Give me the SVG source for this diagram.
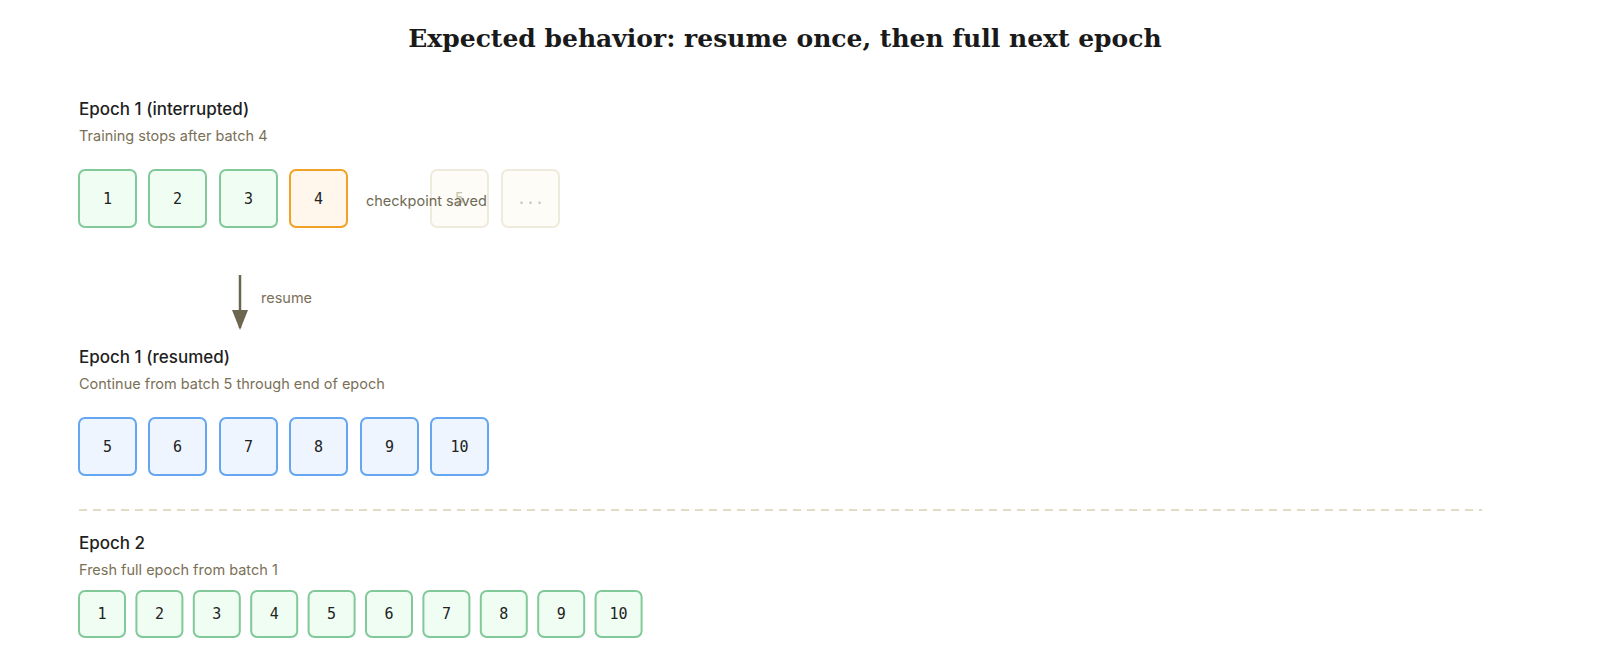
<svg xmlns="http://www.w3.org/2000/svg" width="1600" height="667" viewBox="0 0 1600 667">
<style>
.title{font-family:"DejaVu Serif","Liberation Serif",serif;font-weight:bold;font-size:25px;fill:#1a1a1a}
.h{font-family:Inter,"Liberation Sans",sans-serif;font-weight:500;font-size:17px;fill:#1f1f1f}
.sub{font-family:Inter,"Liberation Sans",sans-serif;font-size:14.5px;fill:#7a7058}
.num{font-family:"DejaVu Sans Mono",monospace;font-size:15px;fill:#222;text-anchor:middle}
.g{fill:#effdf2;stroke:#82c99a;stroke-width:2}
.b{fill:#eef5fe;stroke:#64a6f2;stroke-width:2}
.o{fill:#fff6ec;stroke:#f2a127;stroke-width:2}
.f{fill:#fdfcf7;stroke:#efebdc;stroke-width:2}
</style>
<defs><marker id="ah" markerWidth="20" markerHeight="16" refX="18" refY="8" orient="auto" markerUnits="userSpaceOnUse"><path d="M0,0 L20,8 L0,16 Z" fill="#6b6650"/></marker></defs>
<rect width="1600" height="667" fill="#fff"/>
<text class="title" x="785" y="47" text-anchor="middle">Expected behavior: resume once, then full next epoch</text>
<text class="h" x="79" y="115">Epoch 1 (interrupted)</text>
<text class="sub" x="79" y="141">Training stops after batch 4</text>
<g id="e1b1"><rect class="g" x="79" y="170" width="57" height="57" rx="6"/><text class="num" x="107.5" y="204">1</text></g>
<g id="e1b2"><rect class="g" x="149" y="170" width="57" height="57" rx="6"/><text class="num" x="177.5" y="204">2</text></g>
<g id="e1b3"><rect class="g" x="220" y="170" width="57" height="57" rx="6"/><text class="num" x="248.5" y="204">3</text></g>
<g id="e1b4"><rect class="o" x="290" y="170" width="57" height="57" rx="6"/><text class="num" x="318.5" y="204">4</text></g>
<g id="e1b5"><rect class="f" x="431" y="170" width="57" height="57" rx="6"/><text class="num" x="459.5" y="204" style="fill:#c8c3b0">5</text></g>
<g id="e1b6"><rect class="f" x="502" y="170" width="57" height="57" rx="6"/><text class="num" x="530.5" y="204" style="fill:#c8c3b0">...</text></g>
<text class="sub" x="366" y="206" style="fill:#6f6a55">checkpoint saved</text>
<g id="connectors"><line x1="240" y1="275" x2="240" y2="328" stroke="#6b6650" stroke-width="2.5" marker-end="url(#ah)"/></g>
<text class="sub" x="261" y="303">resume</text>
<text class="h" x="79" y="363">Epoch 1 (resumed)</text>
<text class="sub" x="79" y="389">Continue from batch 5 through end of epoch</text>
<g id="e1r5"><rect class="b" x="79" y="418" width="57" height="57" rx="6"/><text class="num" x="107.5" y="452">5</text></g>
<g id="e1r6"><rect class="b" x="149" y="418" width="57" height="57" rx="6"/><text class="num" x="177.5" y="452">6</text></g>
<g id="e1r7"><rect class="b" x="220" y="418" width="57" height="57" rx="6"/><text class="num" x="248.5" y="452">7</text></g>
<g id="e1r8"><rect class="b" x="290" y="418" width="57" height="57" rx="6"/><text class="num" x="318.5" y="452">8</text></g>
<g id="e1r9"><rect class="b" x="361" y="418" width="57" height="57" rx="6"/><text class="num" x="389.5" y="452">9</text></g>
<g id="e1r10"><rect class="b" x="431" y="418" width="57" height="57" rx="6"/><text class="num" x="459.5" y="452">10</text></g>
<line x1="79" y1="510" x2="1482" y2="510" stroke="#e3dcc4" stroke-width="2" stroke-dasharray="8 6"/>
<text class="h" x="79" y="549">Epoch 2</text>
<text class="sub" x="79" y="575">Fresh full epoch from batch 1</text>
<g id="e2b1"><rect class="g" x="79" y="591" width="46" height="46" rx="6"/><text class="num" x="102" y="619">1</text></g>
<g id="e2b2"><rect class="g" x="136.4" y="591" width="46" height="46" rx="6"/><text class="num" x="159.4" y="619">2</text></g>
<g id="e2b3"><rect class="g" x="193.8" y="591" width="46" height="46" rx="6"/><text class="num" x="216.8" y="619">3</text></g>
<g id="e2b4"><rect class="g" x="251.2" y="591" width="46" height="46" rx="6"/><text class="num" x="274.2" y="619">4</text></g>
<g id="e2b5"><rect class="g" x="308.6" y="591" width="46" height="46" rx="6"/><text class="num" x="331.6" y="619">5</text></g>
<g id="e2b6"><rect class="g" x="366" y="591" width="46" height="46" rx="6"/><text class="num" x="389" y="619">6</text></g>
<g id="e2b7"><rect class="g" x="423.4" y="591" width="46" height="46" rx="6"/><text class="num" x="446.4" y="619">7</text></g>
<g id="e2b8"><rect class="g" x="480.8" y="591" width="46" height="46" rx="6"/><text class="num" x="503.8" y="619">8</text></g>
<g id="e2b9"><rect class="g" x="538.2" y="591" width="46" height="46" rx="6"/><text class="num" x="561.2" y="619">9</text></g>
<g id="e2b10"><rect class="g" x="595.6" y="591" width="46" height="46" rx="6"/><text class="num" x="618.6" y="619">10</text></g>
</svg>
